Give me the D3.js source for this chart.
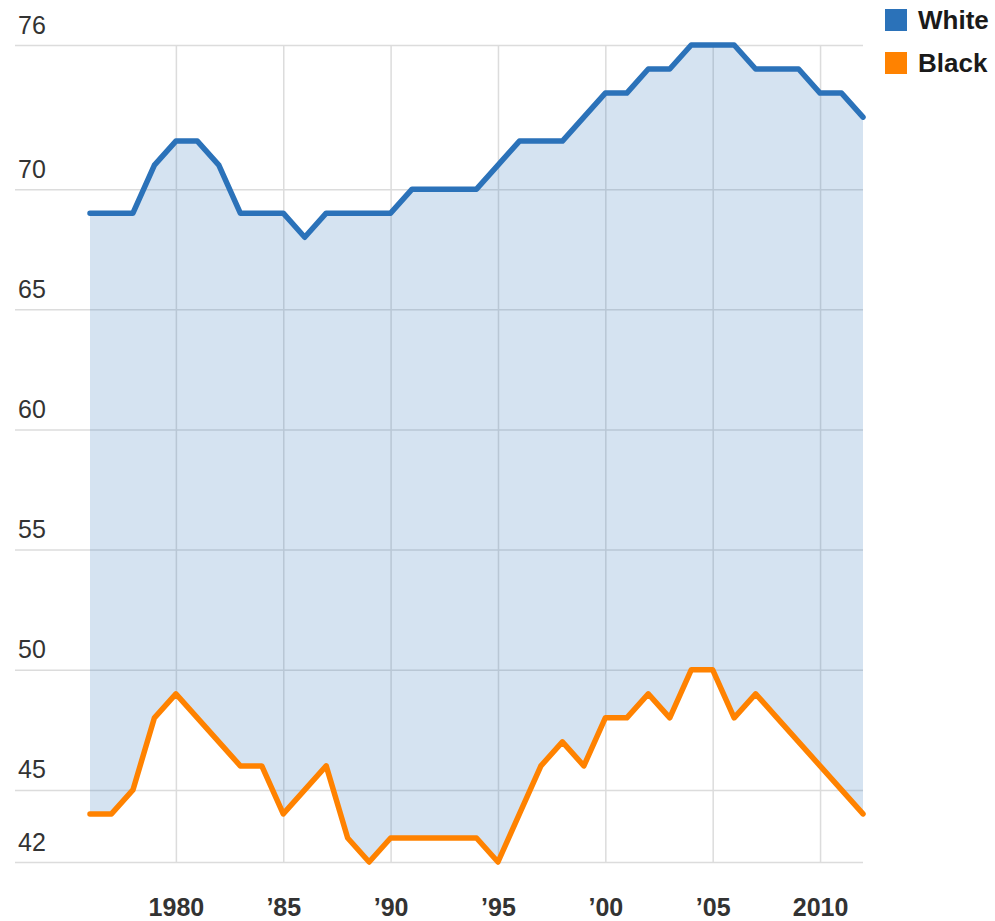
<!DOCTYPE html>
<html>
<head>
<meta charset="utf-8">
<script src="https://cdn.jsdelivr.net/npm/d3@7"></script>
<style>
  html, body { margin: 0; padding: 0; background: #fff; }
  svg { display: block; font-family: "Liberation Sans", Arial, Helvetica, sans-serif; }
</style>
</head>
<body>
<svg id="chart" width="995" height="921"></svg>
<script>
const years = d3.range(1976, 2013);
const whiteValues = [69,69,69,71,72,72,71,69,69,69,68,69,69,69,69,70,70,70,70,71,72,72,72,73,74,74,75,75,76,76,76,75,75,75,74,74,73];
const blackValues = [44,44,45,48,49,48,47,46,46,44,45,46,43,42,43,43,43,43,43,42,44,46,47,46,48,48,49,48,50,50,48,49,48,47,46,45,44];
const yTickValues = [42,45,50,55,60,65,70,76];
const xTickValues = [1980,1985,1990,1995,2000,2005,2010];
const xTickLabels = ["1980","’85","’90","’95","’00","’05","2010"];
const seriesNames = ["White","Black"];
const seriesColors = ["#2b72b9","#ff8200"];

const svg = d3.select("#chart");
const plotLeft = 90, plotRight = 863, plotTop = 45, plotBottom = 862, gridLeft = 15;

const x = d3.scaleLinear().domain([1976, 2012]).range([plotLeft, plotRight]);
const y = d3.scaleLinear().domain([42, 76]).range([plotBottom, plotTop]);

const data = years.map((yr, i) => ({year: yr, white: whiteValues[i], black: blackValues[i]}));

// Horizontal gridlines + y labels
const yAxis = svg.append("g")
  .attr("transform", `translate(${plotRight},0)`)
  .call(d3.axisLeft(y).tickValues(yTickValues).tickSize(plotRight - gridLeft).tickFormat(d3.format("d")));
yAxis.select(".domain").remove();
yAxis.selectAll(".tick line").attr("stroke", "#dcdcdc").attr("stroke-width", 1.5);
yAxis.selectAll(".tick text")
  .attr("x", -(plotRight - 18))
  .attr("dy", -12)
  .attr("text-anchor", "start")
  .attr("fill", "#333")
  .style("font-size", "25px");

// Vertical gridlines + x labels
const xAxis = svg.append("g")
  .attr("transform", `translate(0,${plotBottom})`)
  .call(d3.axisBottom(x).tickValues(xTickValues).tickSize(-(plotBottom - plotTop))
        .tickFormat((d, i) => xTickLabels[i]));
xAxis.select(".domain").remove();
xAxis.selectAll(".tick line").attr("stroke", "#dcdcdc").attr("stroke-width", 1.5);
xAxis.selectAll(".tick text")
  .attr("y", 54)
  .attr("dy", 0)
  .attr("fill", "#333")
  .style("font-size", "25px")
  .style("font-weight", "bold");

// Fill between the two series
const area = d3.area()
  .x(d => x(d.year))
  .y0(d => y(d.black))
  .y1(d => y(d.white));
svg.append("path")
  .datum(data)
  .attr("d", area)
  .attr("fill", seriesColors[0])
  .attr("fill-opacity", 0.2);

// Lines
["white","black"].forEach((key, i) => {
  svg.append("path")
    .datum(data)
    .attr("d", d3.line().x(d => x(d.year)).y(d => y(d[key])))
    .attr("fill", "none")
    .attr("stroke", seriesColors[i])
    .attr("stroke-width", 5.5)
    .attr("stroke-linejoin", "round")
    .attr("stroke-linecap", "round");
});

// Legend
const legend = svg.append("g").attr("transform", "translate(885,9)");
seriesNames.forEach((name, i) => {
  const g = legend.append("g").attr("transform", `translate(0,${i * 43})`);
  g.append("rect").attr("width", 22).attr("height", 22).attr("fill", seriesColors[i]);
  g.append("text").attr("x", 33).attr("y", 20)
    .attr("fill", "#1a1a1a")
    .style("font-size", "26px").style("font-weight", "bold")
    .text(name);
});
</script>
</body>
</html>
